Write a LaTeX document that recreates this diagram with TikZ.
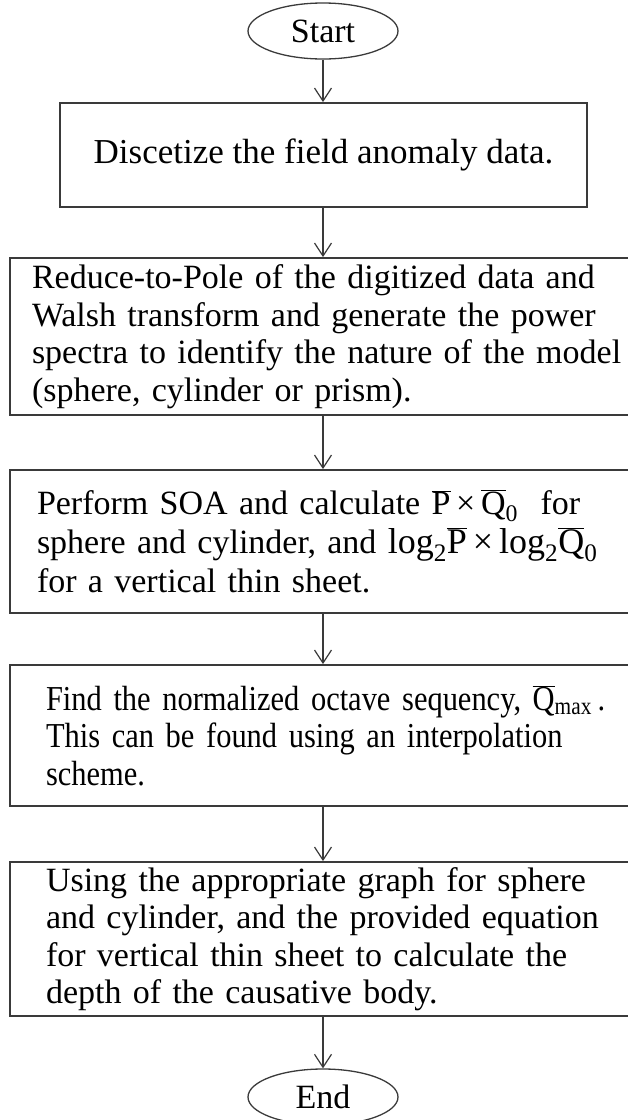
\documentclass[tikz,border=0pt]{standalone}
\usepackage{fontspec}
\setmainfont{Liberation Serif}
\newfontfamily\narrowserif[FakeStretch=0.87]{Liberation Serif}
\usetikzlibrary{arrows.meta, positioning, shapes.geometric}

\definecolor{boxgray}{HTML}{3A3A3A}

% overlined roman letter, set in the text font
\newcommand{\barletter}[1]{\ensuremath{\overline{\hbox{#1}}}}

\begin{document}
\begin{tikzpicture}[x=1pt, y=-1pt, font=\fontsize{34}{37.5}\selectfont,
  procbox/.style={draw=boxgray, line width=1.8pt, rectangle, align=left, inner ysep=0pt},
  termnode/.style={draw=boxgray, line width=1.3pt, ellipse, inner sep=0pt, minimum width=150pt, minimum height=56pt},
  flowarrow/.style={draw=boxgray, line width=1.2pt, -{Straight Barb[length=13pt,width=17pt]}}]

\useasboundingbox (0,0) rectangle (627,1120);

% --- Terminals ---
\node[termnode] (start) at (323,31) {Start};

% --- Process steps (top to bottom); the wide boxes run off the right edge ---
\node[procbox, minimum width=527pt, minimum height=104pt, align=center,
  font=\fontsize{35}{37.5}\selectfont] (discr) at (323.5,155)
  {Discetize the field anomaly data.};

\node[procbox, text width=616pt, inner xsep=22pt, minimum height=157pt] (walsh) at (340,336.5)
  {Reduce-to-Pole of the digitized data and\\
   Walsh transform and generate the power\\
   spectra to identify the nature of the model\\
   (sphere, cylinder or prism).};

\node[procbox, text width=606pt, inner xsep=27pt, minimum height=143pt,
  font=\fontsize{34}{39}\selectfont] (soa) at (340,541.5)
  {Perform SOA and calculate \barletter{P}\,×\,\barletter{Q}\textsubscript{0}\ \ for\\
   sphere and cylinder, and {\fontsize{36}{39}\selectfont log\textsubscript{2}\barletter{P}\,×\,log\textsubscript{2}\barletter{Q}\textsubscript{0}}\\
   for a vertical thin sheet.};

\node[procbox, text width=588pt, inner xsep=36pt, minimum height=141pt,
  font=\fontsize{35}{37.5}\narrowserif] (octave) at (340,735.5)
  {Find the normalized octave sequency, \barletter{Q}\textsubscript{max}\,.\\
   This can be found using an interpolation\\
   scheme.};

\node[procbox, text width=588pt, inner xsep=36pt, minimum height=154pt] (depth) at (340,939)
  {Using the appropriate graph for sphere\\
   and cylinder, and the provided equation\\
   for vertical thin sheet to calculate the\\
   depth of the causative body.};

\node[termnode] (end) at (323,1097) {End};

% --- Connectors ---
\draw[flowarrow] (start.south) -- (discr.north -| start.south);
\draw[flowarrow] (discr.south -| start.south) -- (walsh.north -| start.south);
\draw[flowarrow] (walsh.south -| start.south) -- (soa.north -| start.south);
\draw[flowarrow] (soa.south -| start.south) -- (octave.north -| start.south);
\draw[flowarrow] (octave.south -| start.south) -- (depth.north -| start.south);
\draw[flowarrow] (depth.south -| start.south) -- (end.north);

\end{tikzpicture}
\end{document}
